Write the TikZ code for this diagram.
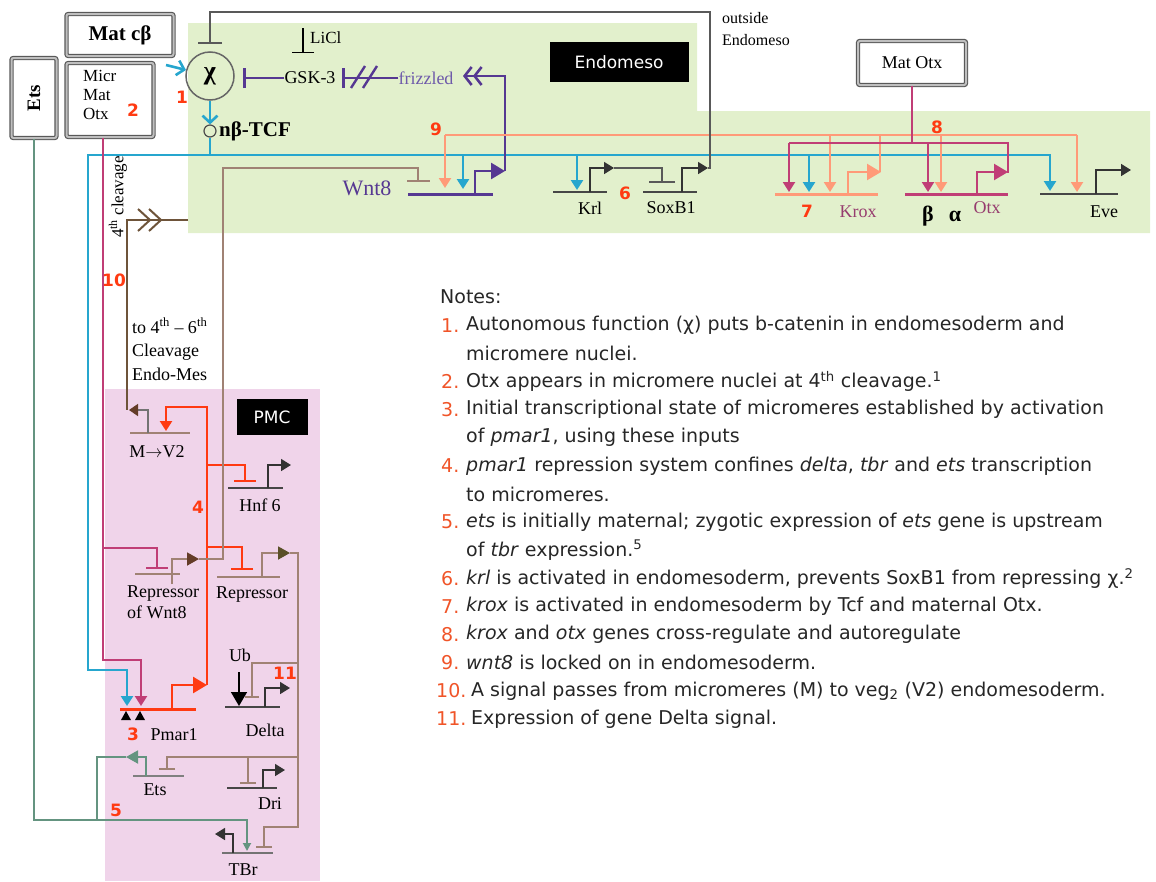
\documentclass[tikz,border=0pt]{standalone}
\usepackage{fontspec}
\setmainfont{Liberation Serif}
\newfontfamily\notefont{DejaVu Sans}
\usetikzlibrary{arrows.meta}
\definecolor{bgreen}{RGB}{226,240,204}
\definecolor{bpink}{RGB}{240,212,234}
\definecolor{cblue}{RGB}{38,166,206}
\definecolor{cmag}{RGB}{192,62,118}
\definecolor{csal}{RGB}{255,154,120}
\definecolor{cpur}{RGB}{86,56,146}
\definecolor{cfriz}{RGB}{110,90,170}
\definecolor{cred}{RGB}{255,58,18}
\definecolor{cbrown}{RGB}{110,84,58}
\definecolor{cdbrown}{RGB}{100,60,40}
\definecolor{colive}{RGB}{90,80,40}
\definecolor{ctaupe}{RGB}{160,130,116}
\definecolor{cteal}{RGB}{100,148,128}
\definecolor{cgene}{RGB}{70,70,70}
\definecolor{cnum}{RGB}{240,84,40}
\definecolor{ctext}{RGB}{38,38,38}
\definecolor{ckrox}{RGB}{150,60,110}
\newcommand\myfs[1]{\fontsize{#1}{#1}\selectfont}
\tikzset{
  lab/.style={inner sep=0pt, font=\myfs{18}},
  num/.style={inner sep=0pt, text=cred, font=\notefont\bfseries\myfs{17}},
  matbox/.style={draw=black!65, double=black!25, double distance=2pt, line width=1.2pt, fill=white, rounded corners=2pt, inner sep=0pt},
  gbar/.style={line width=2.4pt, draw=cgene},
  act/.style={-{Triangle[length=10pt,width=12pt]}},
  bigact/.style={-{Triangle[length=14pt,width=16pt]}},
  bline/.style={draw=cblue, line width=2.6pt},
  note/.style={anchor=west, inner sep=0pt, text=ctext, font=\notefont\myfs{19}},
  nnum/.style={anchor=west, inner sep=0pt, text=cnum, font=\notefont\myfs{19}},
}
\begin{document}
\begin{tikzpicture}[x=1pt,y=-1pt]
\useasboundingbox (0,0) rectangle (1156,881);
% backgrounds
\fill[bgreen] (188,23) -- (697,23) -- (697,111) -- (1150,111) -- (1150,233) -- (188,233) -- cycle;
\fill[bpink] (105,389) rectangle (320,881);

% ---------- boxes and main nodes
\node[fill=black, text=white, font=\notefont\myfs{17}, minimum width=139, minimum height=40, inner sep=0pt] (endolab) at (619,62) {Endomeso};
\node[fill=black, text=white, font=\notefont\myfs{17}, minimum width=71, minimum height=36, inner sep=0pt] (pmclab) at (272,417) {PMC};
\node[circle, draw=black!60, line width=1.5pt, minimum size=48, inner sep=0pt, font=\bfseries\myfs{26}] (chi) at (210,76) {χ};
\node[circle, draw=black!70, line width=1.2pt, minimum size=12, inner sep=0pt] (tcf) at (210,131) {};
\node[lab, anchor=west, font=\bfseries\myfs{21}] (tcft) at (219,131) {nβ-TCF};
\node[num] (n1) at (182,97) {1};
\node[lab] (gsk) at (310,78) {GSK-3};
\node[lab, text=cfriz] (friz) at (426,78) {frizzled};
\node[lab, anchor=west, font=\myfs{17}] (licl) at (310,38) {LiCl};
\node[lab, anchor=west, font=\myfs{16}, align=left] (outs) at (722,29) {outside\\[6pt]Endomeso};

% LiCl inhibition
\coordinate (liclt) at (303,28);
\coordinate (liclb) at (303,53);
\draw[black, line width=1.5pt, -{Bar[width=22pt]}] (liclt) -- (liclb);
% GSK-3 -| chi
\coordinate (gskbar) at (243,78);
\draw[cpur, line width=2.6pt, -{Bar[width=20pt]}] (gsk.west) -- (gskbar);
% frizzled -| GSK-3
\coordinate (frzbar) at (342,78);
\draw[cpur, line width=2.6pt, -{Bar[width=20pt]}] (friz.west) -- (frzbar);
\draw[cpur, line width=2.4pt] (351,88) -- (365,66) (363,88) -- (377,66);

% Mat c beta -> chi, chi -> TCF
\coordinate (mcbout) at (166,65);
\draw[cblue, line width=2.6pt, -{Straight Barb[length=7pt,width=15pt,line width=2.6pt]}] (mcbout) -- (chi);
\draw[cblue, line width=2.6pt, -{Straight Barb[length=7pt,width=15pt,line width=2.6pt]}] (chi) -- (tcf);
\coordinate (bj) at (210,155);
\draw[bline] (tcf) -- (bj);
\coordinate (pmblue) at (127,706);
\coordinate (eveblue) at (1050,191);
\draw[bline, act] (bj) -| (88,670) -| (pmblue);
\draw[bline, act] (bj) -| (eveblue);
\draw[bline, act] (463,155) -- (463,189);
\draw[bline, act] (577,155) -- (577,190);
\draw[bline, act] (809,155) -- (809,192);

% ---------- Wnt8
\draw[cpur, line width=3pt] (408,194) -- (493,194);
\node[lab, text=cpur, font=\myfs{22}] (wnt8) at (367,188) {Wnt8};
\coordinate (wnttip) at (505,171);
\draw[cpur, line width=2.6pt, bigact] (475,194) -- (475,171) -- (wnttip);
\coordinate (frzin) at (463,76);
\draw[cpur, line width=2.6pt, -{Straight Barb[length=7pt,width=18pt,line width=2.6pt]Straight Barb[length=7pt,width=18pt,line width=2.6pt]}] (wnttip) -- (505,76) -- (frzin);

% ---------- salmon (krox output)
\draw[csal, line width=2.2pt] (445,135) -- (1077,135);
\draw[csal, line width=2.2pt, act] (445,135) -- (445,188);
\draw[csal, line width=2.2pt, act] (830,135) -- (830,192);
\draw[csal, line width=2.2pt, act] (941,135) -- (941,192);
\draw[csal, line width=2.2pt, act] (1077,135) -- (1077,192);
\draw[csal, line width=3pt] (775,194) -- (878,194);
\draw[csal, line width=2.4pt, bigact] (848,194) -- (848,172) -- (881,172);
\draw[csal, line width=2.2pt] (880,172) -- (880,135);

% ---------- magenta (Otx)
\node[matbox, minimum width=108, minimum height=44, font=\myfs{18}] (matotx) at (912,63) {Mat Otx};
\draw[cmag, line width=2.2pt] (matotx.south) -- (912,143);
\draw[cmag, line width=2.2pt] (789,143) -- (1008,143) -- (1008,173);
\draw[cmag, line width=2.2pt, act] (789,143) -- (789,192);
\draw[cmag, line width=2.2pt, act] (928,143) -- (928,192);
\draw[cmag, line width=3pt] (905,194) -- (1008,194);
\draw[cmag, line width=2.4pt, bigact] (977,194) -- (977,172) -- (1008,172);

% ---------- Eve
\draw[gbar] (1040,194) -- (1118,194);
\draw[black!80, line width=1.6pt, act] (1096,194) -- (1096,170) -- (1131,170);

% ---------- Krl, SoxB1
\draw[gbar] (553,192) -- (607,192);
\draw[gbar] (643,192) -- (697,192);
\draw[black!80, line width=1.6pt, act] (590,192) -- (590,168) -- (614,168);
\draw[black!65, line width=1.6pt, -{Bar[width=26pt]}] (614,168) -| (662,183);
\coordinate (soxtip) at (708,168);
\draw[black!80, line width=1.6pt, act] (682,192) -- (682,168) -- (soxtip);
\draw[black!65, line width=1.6pt, -{Bar[width=24pt]}] (soxtip) -| (710,12) -| (210,44);

% ---------- top labels
\node[lab] (krl) at (590,208) {Krl};
\node[lab] (soxb1) at (671,208) {SoxB1};
\node[lab] (eve) at (1104,212) {Eve};
\node[lab, text=ckrox] (krox) at (858,212) {Krox};
\node[lab, font=\bfseries\myfs{22}] (beta) at (928,216) {β};
\node[lab, font=\bfseries\myfs{22}] (alpha) at (955,216) {α};
\node[lab, text=ckrox] (otx) at (987,208) {Otx};
\node[num] (n6) at (625,193) {6};
\node[num] (n7) at (807,211) {7};
\node[num] (n8) at (937,127) {8};
\node[num] (n9) at (436,129) {9};

% ---------- left boxes
\node[matbox, minimum width=107, minimum height=42, font=\bfseries\myfs{21}] (matcb) at (120,35) {Mat cβ};
\node[matbox, minimum width=87, minimum height=74] (micr) at (110,100) {};
\node[lab, anchor=north west, align=left, font=\fontsize{17}{19}\selectfont] (micrt) at (83,70) {Micr\\Mat\\Otx};
\node[num] (n2) at (133,110) {2};
\node[matbox, minimum width=45, minimum height=80] (etsbox) at (34,98) {};
\node[lab, rotate=90, font=\bfseries\myfs{19}] (etst) at (34,98) {Ets};

% ---------- brown signal to endomeso
\draw[cbrown, line width=2pt] (188,220) -- (127,220) -- (127,410);
\draw[cbrown, line width=2pt] (138,209) -- (150,220) -- (138,231) (149,209) -- (161,220) -- (149,231);
\node[lab, rotate=90, font=\myfs{17}] (cleav) at (118,197) {4\textsuperscript{th} cleavage};
\node[num] (n10) at (114,280) {10};
\node[lab, anchor=north west, align=left, font=\fontsize{18}{23.5}\selectfont] (tocl) at (132,318) {to 4\textsuperscript{th} -- 6\textsuperscript{th}\\Cleavage\\Endo-Mes};

% ---------- magenta from Micr Mat Otx
\coordinate (pmmag) at (141,706);
\draw[cmag, line width=2.2pt, act] (micr.south -| 103,0) -- (103,660) -| (pmmag);
\draw[cmag, line width=2.2pt, -{Bar[width=22pt]}] (103,548) -| (157,569);

% ---------- M->V2
\draw[ctaupe, line width=2pt] (130,433) -- (190,433);
\draw[black!55, line width=1.5pt, -{Triangle[length=9pt,width=12pt,color=cdbrown,fill=cdbrown]}] (148,433) -- (148,410) -- (129,410);
\node[lab] (mv2) at (157,452) {M$\rightarrow$V2};

% ---------- Pmar1 and red repression network
\draw[cred, line width=3pt] (120,709) -- (196,709);
\coordinate (pmtip) at (207,685);
\draw[cred, line width=2.6pt, bigact] (172,709) -- (172,685) -- (pmtip);
\draw[cred, line width=2.4pt, act] (pmtip) -- (207,407) -| (166,431);
\draw[cred, line width=2.4pt, -{Bar[width=22pt]}] (207,465) -| (245,482);
\draw[cred, line width=2.4pt, -{Bar[width=22pt]}] (207,547) -| (242,570);
\fill (121,720) -- (126,711) -- (131,720) -- cycle;
\fill (135,720) -- (140,711) -- (145,720) -- cycle;
\node[num] (n3) at (133,734) {3};
\node[lab] (pmar1) at (174,735) {Pmar1};
\node[num] (n4) at (198,507) {4};

% ---------- Hnf6
\draw[gbar] (228,488) -- (283,488);
\draw[black!80, line width=1.6pt, act] (268,488) -- (268,465) -- (291,465);
\node[lab] (hnf6) at (260,505) {Hnf 6};

% ---------- Repressor of Wnt8
\draw[ctaupe, line width=2.2pt] (135,574) -- (180,574);
\coordinate (rwtip) at (199,559);
\draw[ctaupe, line width=1.8pt, -{Triangle[length=12pt,width=13pt,color=cdbrown,fill=cdbrown]}] (172,584) -- (172,559) -- (rwtip);
\draw[ctaupe, line width=1.8pt, -{Bar[width=23pt]}] (rwtip) -- (223,559) -- (223,168) -| (418,182);
\node[lab, anchor=north west, align=left, font=\fontsize{18}{21}\selectfont] (repw) at (127,586) {Repressor\\of Wnt8};

% ---------- Repressor
\draw[ctaupe, line width=2.2pt] (217,577) -- (280,577);
\coordinate (rptip) at (290,553);
\draw[ctaupe, line width=1.8pt, -{Triangle[length=12pt,width=13pt,color=colive,fill=colive]}] (262,577) -- (262,553) -- (rptip);
\draw[ctaupe, line width=1.8pt, -{Bar[width=16pt]}] (rptip) -| (298,827) -| (264,848);
\draw[ctaupe, line width=1.8pt, -{Bar[width=14pt]}] (298,663) -| (252,698);
\draw[ctaupe, line width=1.8pt, -{Bar[width=16pt]}] (298,757) -| (167,770);
\draw[ctaupe, line width=1.8pt, -{Bar[width=16pt]}] (248,757) -- (248,784);
\node[lab] (rep) at (252,595) {Repressor};

% ---------- Delta
\draw[gbar] (225,707) -- (280,707);
\draw[black, line width=1.5pt, bigact] (239,672) -- (239,706);
\draw[black!80, line width=1.6pt, act] (265,707) -- (265,688) -- (290,688);
\node[lab] (ub) at (240,655) {Ub};
\node[num] (n11) at (285,673) {11};
\node[lab] (delta) at (265,730) {Delta};

% ---------- Ets gene, teal
\draw[draw=black!50, line width=2pt] (133,776) -- (184,776);
\coordinate (etstip) at (126,757);
\draw[cteal, line width=1.8pt, -{Triangle[length=12pt,width=13pt]}] (146,776) -- (146,757) -- (etstip);
\draw[cteal, line width=1.8pt] (etstip) -- (97,757) -- (97,820);
\draw[cteal, line width=1.8pt, -{Triangle[length=8pt,width=8pt]}] (etsbox.south) |- (247,820) -- (247,851);
\node[lab] (etsg) at (155,790) {Ets};
\node[num] (n5) at (116,810) {5};

% ---------- Dri, TBr
\draw[gbar] (227,788) -- (277,788);
\draw[black!80, line width=1.6pt, act] (263,788) -- (263,770) -- (285,770);
\node[lab] (dri) at (270,804) {Dri};
\draw[draw=black!55, line width=2.2pt] (222,853) -- (273,853);
\draw[black!80, line width=1.6pt, act] (233,853) -- (233,834) -- (215,834);
\node[lab] (tbr) at (243,870) {TBr};

% ---------- Notes
\node[note] (nt0) at (440,297) {Notes:};
\node[nnum] (k1) at (441,325.1) {1.};
\node[note] (t1) at (466,325.1) {Autonomous function (χ) puts b-catenin in endomesoderm and};
\node[note] (t1b) at (466,353.3) {micromere nuclei.};
\node[nnum] (k2) at (441,381.4) {2.};
\node[note] (t2) at (466,381.4) {Otx appears in micromere nuclei at 4\textsuperscript{th} cleavage.\textsuperscript{1}};
\node[nnum] (k3) at (441,409.5) {3.};
\node[note] (t3) at (466,409.5) {Initial transcriptional state of micromeres established by activation};
\node[note] (t3b) at (466,437.7) {of \textit{pmar1}, using these inputs};
\node[nnum] (k4) at (441,465.8) {4.};
\node[note] (t4) at (466,465.8) {\textit{pmar1} repression system confines \textit{delta}, \textit{tbr} and \textit{ets} transcription};
\node[note] (t4b) at (466,494) {to micromeres.};
\node[nnum] (k5) at (441,522) {5.};
\node[note] (t5) at (466,522) {\textit{ets} is initially maternal; zygotic expression of \textit{ets} gene is upstream};
\node[note] (t5b) at (466,550.2) {of \textit{tbr} expression.\textsuperscript{5}};
\node[nnum] (k6) at (441,578.3) {6.};
\node[note] (t6) at (466,578.3) {\textit{krl} is activated in endomesoderm, prevents SoxB1 from repressing χ.\textsuperscript{2}};
\node[nnum] (k7) at (441,606.4) {7.};
\node[note] (t7) at (466,606.4) {\textit{krox} is activated in endomesoderm by Tcf and maternal Otx.};
\node[nnum] (k8) at (441,634.6) {8.};
\node[note] (t8) at (466,634.6) {\textit{krox} and \textit{otx} genes cross-regulate and autoregulate};
\node[nnum] (k9) at (441,662.7) {9.};
\node[note] (t9) at (466,662.7) {\textit{wnt8} is locked on in endomesoderm.};
\node[nnum] (k10) at (436,690.8) {10.};
\node[note] (t10) at (471,690.8) {A signal passes from micromeres (M) to veg\textsubscript{2} (V2) endomesoderm.};
\node[nnum] (k11) at (436,719) {11.};
\node[note] (t11) at (471,719) {Expression of gene Delta signal.};
\end{tikzpicture}
\end{document}
